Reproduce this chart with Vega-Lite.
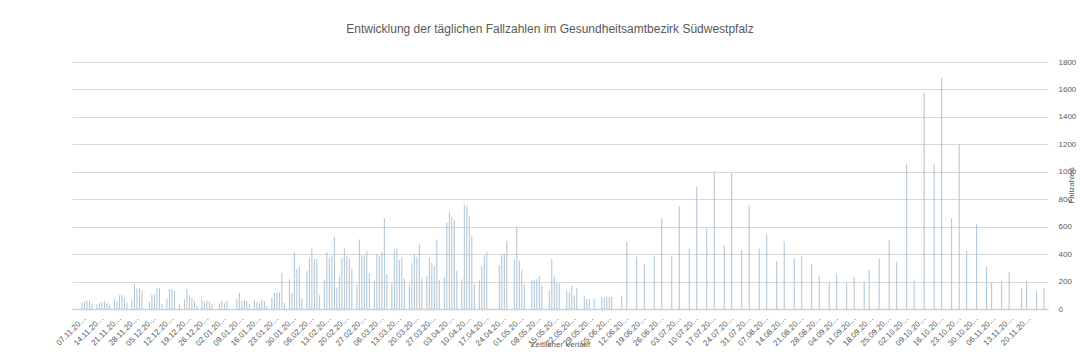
{
  "$schema": "https://vega.github.io/schema/vega-lite/v6.json",
  "autosize": "none",
  "width": 976,
  "height": 247,
  "padding": {"left": 72, "top": 62, "right": 34, "bottom": 47},
  "background": "white",
  "config": {
    "view": {"stroke": null},
    "font": "Liberation Sans"
  },
  "title": {
    "text": "Entwicklung der täglichen Fallzahlen im Gesundheitsamtbezirk Südwestpfalz",
    "frame": "group",
    "anchor": "middle",
    "offset": 22,
    "dx": -10,
    "fontSize": 12,
    "fontWeight": "normal",
    "color": "#595959",
    "font": "Liberation Sans"
  },
  "data": {
    "values": [
      {"datum": "2020-11-07", "faelle": 48}, {"datum": "2020-11-08", "faelle": 55}, {"datum": "2020-11-09", "faelle": 60}, {"datum": "2020-11-10", "faelle": 60}, {"datum": "2020-11-11", "faelle": 34},
      {"datum": "2020-11-13", "faelle": 34}, {"datum": "2020-11-14", "faelle": 43}, {"datum": "2020-11-15", "faelle": 55}, {"datum": "2020-11-16", "faelle": 55}, {"datum": "2020-11-17", "faelle": 46}, {"datum": "2020-11-18", "faelle": 24},
      {"datum": "2020-11-20", "faelle": 72}, {"datum": "2020-11-21", "faelle": 58}, {"datum": "2020-11-22", "faelle": 101}, {"datum": "2020-11-23", "faelle": 104}, {"datum": "2020-11-24", "faelle": 80}, {"datum": "2020-11-25", "faelle": 43},
      {"datum": "2020-11-27", "faelle": 70}, {"datum": "2020-11-28", "faelle": 186}, {"datum": "2020-11-29", "faelle": 150}, {"datum": "2020-11-30", "faelle": 150}, {"datum": "2020-12-01", "faelle": 137},
      {"datum": "2020-12-04", "faelle": 53}, {"datum": "2020-12-05", "faelle": 104}, {"datum": "2020-12-06", "faelle": 104}, {"datum": "2020-12-07", "faelle": 152}, {"datum": "2020-12-08", "faelle": 152}, {"datum": "2020-12-09", "faelle": 36},
      {"datum": "2020-12-11", "faelle": 72}, {"datum": "2020-12-12", "faelle": 145}, {"datum": "2020-12-13", "faelle": 145}, {"datum": "2020-12-14", "faelle": 133}, {"datum": "2020-12-16", "faelle": 34},
      {"datum": "2020-12-18", "faelle": 72}, {"datum": "2020-12-19", "faelle": 145}, {"datum": "2020-12-20", "faelle": 96}, {"datum": "2020-12-21", "faelle": 80}, {"datum": "2020-12-22", "faelle": 60}, {"datum": "2020-12-23", "faelle": 24},
      {"datum": "2020-12-25", "faelle": 67}, {"datum": "2020-12-26", "faelle": 53}, {"datum": "2020-12-27", "faelle": 60}, {"datum": "2020-12-28", "faelle": 55}, {"datum": "2020-12-29", "faelle": 34},
      {"datum": "2021-01-01", "faelle": 43}, {"datum": "2021-01-02", "faelle": 60}, {"datum": "2021-01-03", "faelle": 43}, {"datum": "2021-01-04", "faelle": 60},
      {"datum": "2021-01-08", "faelle": 72}, {"datum": "2021-01-09", "faelle": 116}, {"datum": "2021-01-10", "faelle": 58}, {"datum": "2021-01-11", "faelle": 65}, {"datum": "2021-01-12", "faelle": 58}, {"datum": "2021-01-13", "faelle": 36},
      {"datum": "2021-01-15", "faelle": 67}, {"datum": "2021-01-16", "faelle": 53}, {"datum": "2021-01-17", "faelle": 48}, {"datum": "2021-01-18", "faelle": 67}, {"datum": "2021-01-19", "faelle": 58}, {"datum": "2021-01-20", "faelle": 24},
      {"datum": "2021-01-22", "faelle": 80}, {"datum": "2021-01-23", "faelle": 120}, {"datum": "2021-01-24", "faelle": 120}, {"datum": "2021-01-25", "faelle": 120}, {"datum": "2021-01-26", "faelle": 260}, {"datum": "2021-01-27", "faelle": 43},
      {"datum": "2021-01-29", "faelle": 217}, {"datum": "2021-01-30", "faelle": 116}, {"datum": "2021-01-31", "faelle": 415}, {"datum": "2021-02-01", "faelle": 294}, {"datum": "2021-02-02", "faelle": 308}, {"datum": "2021-02-03", "faelle": 77},
      {"datum": "2021-02-05", "faelle": 277}, {"datum": "2021-02-06", "faelle": 374}, {"datum": "2021-02-07", "faelle": 439}, {"datum": "2021-02-08", "faelle": 366}, {"datum": "2021-02-09", "faelle": 366}, {"datum": "2021-02-10", "faelle": 101},
      {"datum": "2021-02-12", "faelle": 210}, {"datum": "2021-02-13", "faelle": 415}, {"datum": "2021-02-14", "faelle": 374}, {"datum": "2021-02-15", "faelle": 390}, {"datum": "2021-02-16", "faelle": 525}, {"datum": "2021-02-17", "faelle": 157},
      {"datum": "2021-02-18", "faelle": 236}, {"datum": "2021-02-19", "faelle": 374}, {"datum": "2021-02-20", "faelle": 441}, {"datum": "2021-02-21", "faelle": 386}, {"datum": "2021-02-22", "faelle": 366}, {"datum": "2021-02-23", "faelle": 294},
      {"datum": "2021-02-25", "faelle": 181}, {"datum": "2021-02-26", "faelle": 506}, {"datum": "2021-02-27", "faelle": 390}, {"datum": "2021-02-28", "faelle": 390}, {"datum": "2021-03-01", "faelle": 422}, {"datum": "2021-03-02", "faelle": 260},
      {"datum": "2021-03-04", "faelle": 205}, {"datum": "2021-03-05", "faelle": 402}, {"datum": "2021-03-06", "faelle": 386}, {"datum": "2021-03-07", "faelle": 417}, {"datum": "2021-03-08", "faelle": 663}, {"datum": "2021-03-09", "faelle": 253},
      {"datum": "2021-03-11", "faelle": 188}, {"datum": "2021-03-12", "faelle": 434}, {"datum": "2021-03-13", "faelle": 439}, {"datum": "2021-03-14", "faelle": 357}, {"datum": "2021-03-15", "faelle": 378}, {"datum": "2021-03-16", "faelle": 222},
      {"datum": "2021-03-18", "faelle": 181}, {"datum": "2021-03-19", "faelle": 333}, {"datum": "2021-03-20", "faelle": 405}, {"datum": "2021-03-21", "faelle": 381}, {"datum": "2021-03-22", "faelle": 470}, {"datum": "2021-03-23", "faelle": 222},
      {"datum": "2021-03-25", "faelle": 241}, {"datum": "2021-03-26", "faelle": 374}, {"datum": "2021-03-27", "faelle": 337}, {"datum": "2021-03-28", "faelle": 313}, {"datum": "2021-03-29", "faelle": 506}, {"datum": "2021-03-30", "faelle": 212},
      {"datum": "2021-04-01", "faelle": 229}, {"datum": "2021-04-02", "faelle": 627}, {"datum": "2021-04-03", "faelle": 711}, {"datum": "2021-04-04", "faelle": 670}, {"datum": "2021-04-05", "faelle": 646}, {"datum": "2021-04-06", "faelle": 277},
      {"datum": "2021-04-08", "faelle": 217}, {"datum": "2021-04-09", "faelle": 759}, {"datum": "2021-04-10", "faelle": 752}, {"datum": "2021-04-11", "faelle": 682}, {"datum": "2021-04-12", "faelle": 535}, {"datum": "2021-04-13", "faelle": 181},
      {"datum": "2021-04-15", "faelle": 212}, {"datum": "2021-04-16", "faelle": 313}, {"datum": "2021-04-17", "faelle": 390}, {"datum": "2021-04-18", "faelle": 417},
      {"datum": "2021-04-23", "faelle": 318}, {"datum": "2021-04-24", "faelle": 390}, {"datum": "2021-04-25", "faelle": 402}, {"datum": "2021-04-26", "faelle": 494},
      {"datum": "2021-04-29", "faelle": 361}, {"datum": "2021-04-30", "faelle": 602}, {"datum": "2021-05-01", "faelle": 354}, {"datum": "2021-05-02", "faelle": 284}, {"datum": "2021-05-03", "faelle": 181},
      {"datum": "2021-05-06", "faelle": 210}, {"datum": "2021-05-07", "faelle": 210}, {"datum": "2021-05-08", "faelle": 217}, {"datum": "2021-05-09", "faelle": 241}, {"datum": "2021-05-10", "faelle": 169},
      {"datum": "2021-05-13", "faelle": 133}, {"datum": "2021-05-14", "faelle": 366}, {"datum": "2021-05-15", "faelle": 236}, {"datum": "2021-05-16", "faelle": 193}, {"datum": "2021-05-17", "faelle": 188},
      {"datum": "2021-05-20", "faelle": 133}, {"datum": "2021-05-21", "faelle": 120}, {"datum": "2021-05-22", "faelle": 169}, {"datum": "2021-05-23", "faelle": 101}, {"datum": "2021-05-24", "faelle": 150},
      {"datum": "2021-05-27", "faelle": 96}, {"datum": "2021-05-28", "faelle": 72}, {"datum": "2021-05-29", "faelle": 72}, {"datum": "2021-05-31", "faelle": 72},
      {"datum": "2021-06-03", "faelle": 89}, {"datum": "2021-06-04", "faelle": 80}, {"datum": "2021-06-05", "faelle": 89}, {"datum": "2021-06-06", "faelle": 89}, {"datum": "2021-06-07", "faelle": 89},
      {"datum": "2021-06-11", "faelle": 96}, {"datum": "2021-06-13", "faelle": 490},
      {"datum": "2021-06-17", "faelle": 381}, {"datum": "2021-06-20", "faelle": 327}, {"datum": "2021-06-24", "faelle": 388}, {"datum": "2021-06-27", "faelle": 659},
      {"datum": "2021-07-01", "faelle": 385}, {"datum": "2021-07-04", "faelle": 749}, {"datum": "2021-07-08", "faelle": 441}, {"datum": "2021-07-11", "faelle": 890},
      {"datum": "2021-07-15", "faelle": 587}, {"datum": "2021-07-18", "faelle": 1006}, {"datum": "2021-07-22", "faelle": 465}, {"datum": "2021-07-25", "faelle": 991},
      {"datum": "2021-07-29", "faelle": 434}, {"datum": "2021-08-01", "faelle": 756}, {"datum": "2021-08-05", "faelle": 441}, {"datum": "2021-08-08", "faelle": 543},
      {"datum": "2021-08-12", "faelle": 349}, {"datum": "2021-08-15", "faelle": 494}, {"datum": "2021-08-19", "faelle": 368}, {"datum": "2021-08-22", "faelle": 385},
      {"datum": "2021-08-26", "faelle": 327}, {"datum": "2021-08-29", "faelle": 240}, {"datum": "2021-09-02", "faelle": 194}, {"datum": "2021-09-05", "faelle": 259},
      {"datum": "2021-09-09", "faelle": 187}, {"datum": "2021-09-12", "faelle": 235}, {"datum": "2021-09-16", "faelle": 200}, {"datum": "2021-09-18", "faelle": 288},
      {"datum": "2021-09-22", "faelle": 366}, {"datum": "2021-09-26", "faelle": 500}, {"datum": "2021-09-29", "faelle": 342}, {"datum": "2021-10-03", "faelle": 1057},
      {"datum": "2021-10-06", "faelle": 207}, {"datum": "2021-10-10", "faelle": 1574}, {"datum": "2021-10-14", "faelle": 1054}, {"datum": "2021-10-17", "faelle": 1684},
      {"datum": "2021-10-21", "faelle": 664}, {"datum": "2021-10-24", "faelle": 1200}, {"datum": "2021-10-27", "faelle": 422}, {"datum": "2021-10-31", "faelle": 617},
      {"datum": "2021-11-04", "faelle": 310}, {"datum": "2021-11-06", "faelle": 195}, {"datum": "2021-11-10", "faelle": 207}, {"datum": "2021-11-13", "faelle": 268},
      {"datum": "2021-11-18", "faelle": 151}, {"datum": "2021-11-20", "faelle": 203}, {"datum": "2021-11-24", "faelle": 129}, {"datum": "2021-11-27", "faelle": 151}
    ]
  },
  "mark": {"type": "bar", "width": 1, "color": "#abc3d6"},
  "encoding": {
    "x": {
      "field": "datum",
      "type": "temporal",
      "scale": {"type": "utc", "domain": [1604536128000, 1637932320000]},
      "axis": {
        "values": [1604707200000, 1605312000000, 1605916800000, 1606521600000, 1607126400000, 1607731200000, 1608336000000, 1608940800000, 1609545600000, 1610150400000, 1610755200000, 1611360000000, 1611964800000, 1612569600000, 1613174400000, 1613779200000, 1614384000000, 1614988800000, 1615593600000, 1616198400000, 1616803200000, 1617408000000, 1618012800000, 1618617600000, 1619222400000, 1619827200000, 1620432000000, 1621036800000, 1621641600000, 1622246400000, 1622851200000, 1623456000000, 1624060800000, 1624665600000, 1625270400000, 1625875200000, 1626480000000, 1627084800000, 1627689600000, 1628294400000, 1628899200000, 1629504000000, 1630108800000, 1630713600000, 1631318400000, 1631923200000, 1632528000000, 1633132800000, 1633737600000, 1634342400000, 1634947200000, 1635552000000, 1636156800000, 1636761600000, 1637366400000],
        "labelExpr": "substring(utcFormat(datum.value, '%d.%m.%Y'), 0, 8) + '…'",
        "labelAngle": -45,
        "labelFontSize": 8,
        "labelColor": "#595959",
        "labelPadding": 5,
        "labelOverlap": false,
        "labelBound": false,
        "labelFlush": false,
        "grid": false,
        "ticks": false,
        "domainColor": "#d0d0d0",
        "domainWidth": 1.5,
        "title": "Zeitlicher Verlauf",
        "titleFontSize": 8,
        "titleFontWeight": "normal",
        "titleColor": "#595959",
        "titleBaseline": "alphabetic",
        "titleY": 37
      }
    },
    "y": {
      "field": "faelle",
      "type": "quantitative",
      "scale": {"domain": [0, 1800], "nice": false},
      "axis": {
        "orient": "right",
        "values": [0, 200, 400, 600, 800, 1000, 1200, 1400, 1600, 1800],
        "format": "d",
        "grid": true,
        "gridColor": "#d9d9d9",
        "gridWidth": 1,
        "domain": false,
        "ticks": false,
        "labelFontSize": 8,
        "labelColor": "#595959",
        "labelPadding": 10,
        "title": "Fallzahlen",
        "titleFontSize": 8,
        "titleFontWeight": "normal",
        "titleColor": "#595959",
        "titleAngle": 270,
        "titleAlign": "center",
        "titleBaseline": "middle",
        "titleX": 23,
        "titleY": 123
      }
    }
  }
}
